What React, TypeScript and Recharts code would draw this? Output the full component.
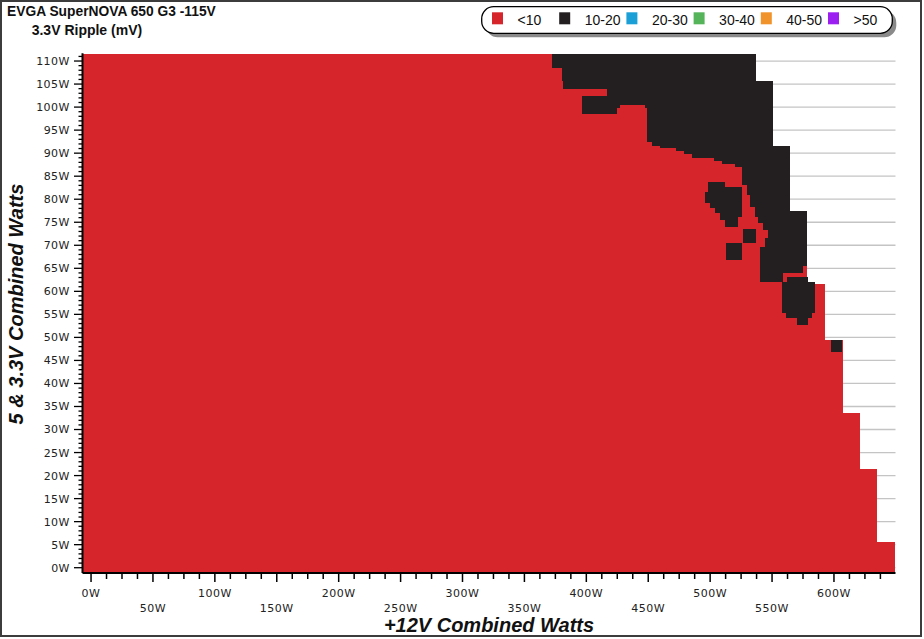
import React from 'react';
import { ComposedChart, Area, XAxis, YAxis, ReferenceArea, ReferenceLine } from 'recharts';

// ---------- data ----------
const titleText = 'EVGA SuperNOVA 650 G3 -115V';
const subtitleText = '3.3V Ripple (mV)';
const xTitle = '+12V Combined Watts';
const yTitle = '5 & 3.3V Combined Watts';

const xDomain: [number, number] = [-6.9, 649.7];
const yDomain: [number, number] = [-1.15, 111.7];

const xLabelValues = [0, 50, 100, 150, 200, 250, 300, 350, 400, 450, 500, 550, 600];
const yLabelValues = [0, 5, 10, 15, 20, 25, 30, 35, 40, 45, 50, 55, 60, 65, 70, 75, 80, 85, 90, 95, 100, 105, 110];
const xMinorStep = 12.5;
const xMinorTicks = Array.from({ length: 52 }, (_, i) => i * xMinorStep);
const yMinorTicks = Array.from({ length: 112 }, (_, i) => i);

// outer envelope of the measured region (<10 mV everywhere unless overwritten)
const envelope = [
  { x: -6.9, top: 111.6 },
  { x: 537.0, top: 105.7 },
  { x: 551.0, top: 91.6 },
  { x: 564.5, top: 77.5 },
  { x: 578.0, top: 61.6 },
  { x: 592.7, top: 49.4 },
  { x: 606.9, top: 33.5 },
  { x: 621.0, top: 21.4 },
  { x: 635.0, top: 5.6 },
  { x: 649.0, top: 5.6 },
];

// cells with 10-20 mV ripple: [x from, x to, y from, y to] in watts
const blackCells: [number, number, number, number][] = [
  [372.5, 537.0, 108.5, 111.6],
  [380.4, 537.0, 105.7, 108.5],
  [381.5, 551.0, 103.9, 105.7],
  [416.7, 551.0, 102.3, 103.9],
  [396.5, 551.0, 100.5, 102.3],
  [396.5, 427.2, 99.8, 100.5],
  [447.4, 551.0, 99.8, 100.5],
  [396.5, 424.8, 98.6, 99.8],
  [448.8, 551.0, 98.6, 99.8],
  [448.8, 551.0, 92.4, 98.6],
  [453.0, 551.0, 91.6, 92.4],
  [459.5, 564.5, 91.1, 91.6],
  [472.4, 564.5, 90.5, 91.1],
  [478.9, 564.5, 89.8, 90.5],
  [485.3, 564.5, 89.0, 89.8],
  [503.1, 564.5, 88.3, 89.0],
  [509.6, 564.5, 87.7, 88.3],
  [520.1, 564.5, 87.0, 87.7],
  [525.7, 564.5, 83.1, 87.0],
  [529.8, 564.5, 80.9, 83.1],
  [532.2, 564.5, 78.3, 80.9],
  [536.2, 564.5, 77.5, 78.3],
  [536.2, 578.0, 76.1, 77.5],
  [538.6, 578.0, 74.8, 76.1],
  [542.7, 578.0, 73.3, 74.8],
  [546.7, 578.0, 71.6, 73.3],
  [544.3, 578.0, 69.6, 71.6],
  [540.2, 578.0, 65.5, 69.6],
  [540.2, 575.0, 64.0, 65.5],
  [540.2, 558.8, 62.0, 64.0],
  [561.8, 579.0, 62.0, 63.2],
  [557.8, 584.7, 55.3, 62.0],
  [561.2, 582.3, 54.2, 55.3],
  [569.9, 579.0, 52.7, 54.2],
  [498.2, 512.0, 82.7, 83.8],
  [498.2, 525.5, 81.6, 82.7],
  [495.8, 525.5, 79.2, 81.6],
  [499.8, 525.5, 78.1, 79.2],
  [503.9, 525.5, 77.0, 78.1],
  [507.9, 525.5, 76.1, 77.0],
  [507.9, 522.5, 75.5, 76.1],
  [512.0, 522.5, 74.0, 75.5],
  [526.5, 537.0, 70.6, 73.5],
  [512.8, 525.5, 66.8, 70.5],
  [597.3, 606.7, 46.9, 49.4],
];

const legendNames = ['<10', '10-20', '20-30', '30-40', '40-50', '>50'];
const legendColors = ['#d7262b', '#231f20', '#1a9fd6', '#55b45a', '#f0932a', '#9b1ff0'];

// ---------- styling ----------
const RED = legendColors[0];
const BLACK = legendColors[1];
const TICK_FONT = '"DejaVu Sans", Verdana, sans-serif';
const TEXT_FONT = '"Liberation Sans", Arial, sans-serif';

const XTick = (props: any) => {
  const { x, y, payload } = props;
  const v = payload.value as number;
  const major = v % 50 === 0;
  const lower = major && v % 100 !== 0;
  return (
    <g>
      <line x1={x} x2={x} y1={y} y2={y + (major ? 9 : 6)} stroke="#000" strokeWidth={1.5} />
      {major && (
        <text x={x} y={y + (lower ? 38.7 : 24)} textAnchor="middle" fontFamily={TICK_FONT} fontSize={11} letterSpacing={0.5} fill="#222">
          {`${v}W`}
        </text>
      )}
    </g>
  );
};

const YTick = (props: any) => {
  const { x, y, payload } = props;
  const v = payload.value as number;
  const major = v % 5 === 0;
  return (
    <g>
      <line x1={x - (major ? 8.5 : 4)} x2={x} y1={y} y2={y} stroke="#000" strokeWidth={1.3} />
      {major && (
        <text x={x - 12.5} y={y} dy="0.36em" textAnchor="end" fontFamily={TICK_FONT} fontSize={11} letterSpacing={0.5} fill="#222">
          {`${v}W`}
        </text>
      )}
    </g>
  );
};

const css = `
.heat .recharts-reference-area-rect { shape-rendering: crispEdges; }
.heat .recharts-area-area { shape-rendering: crispEdges; }
`;

export default function App() {
  const legendStart = 492;
  const legendStep = 67.2;
  return (
    <div className="heat" style={{ position: 'absolute', left: 0, top: 0, width: 924, height: 639, background: '#fff', overflow: 'hidden' }}>
      <style>{css}</style>
      <ComposedChart width={924} height={639} data={envelope} margin={{ top: 53.2, right: 28.5, bottom: 0, left: 0 }}>
        {yLabelValues.map((v) => (
          <ReferenceLine key={`g${v}`} y={v} stroke="#c4c4c4" strokeWidth={1.3} ifOverflow="visible" zIndex={-50} />
        ))}
        <Area
          dataKey="top"
          type="stepAfter"
          fill={RED}
          fillOpacity={1}
          stroke="none"
          baseValue="dataMin"
          dot={false}
          activeDot={false}
          isAnimationActive={false}
          zIndex={100}
        />
        {blackCells.map((c, i) => (
          <ReferenceArea
            key={`b${i}`}
            x1={c[0]}
            x2={c[1]}
            y1={c[2]}
            y2={c[3]}
            fill={BLACK}
            fillOpacity={1}
            stroke="none"
            ifOverflow="visible"
            zIndex={200}
          />
        ))}
        <XAxis
          dataKey="x"
          type="number"
          domain={xDomain}
          allowDataOverflow
          ticks={xMinorTicks}
          interval={0}
          tick={<XTick />}
          tickLine={false}
          tickSize={0}
          tickMargin={0}
          height={66}
          axisLine={{ stroke: '#000', strokeWidth: 2 }}
        />
        <YAxis
          type="number"
          domain={yDomain}
          allowDataOverflow
          ticks={yMinorTicks}
          interval={0}
          tick={<YTick />}
          tickLine={false}
          tickSize={0}
          tickMargin={0}
          width={82.5}
          axisLine={{ stroke: '#000', strokeWidth: 2 }}
        />
      </ComposedChart>
      <svg width={924} height={639} style={{ position: 'absolute', left: 0, top: 0, pointerEvents: 'none' }}>
        <rect x={1} y={1} width={920} height={635} fill="none" stroke="#3c3c3c" strokeWidth={2} />
        <text x={7} y={15.5} fontFamily={TEXT_FONT} fontWeight="bold" fontSize={13.8} fill="#111">{titleText}</text>
        <text x={31.7} y={35.3} fontFamily={TEXT_FONT} fontWeight="bold" fontSize={14} fill="#111">{subtitleText}</text>
        <text x={489} y={631.7} textAnchor="middle" fontFamily={TEXT_FONT} fontWeight="bold" fontStyle="italic" fontSize={20} fill="#111">{xTitle}</text>
        <text transform="translate(23,304) rotate(-90)" textAnchor="middle" fontFamily={TEXT_FONT} fontWeight="bold" fontStyle="italic" fontSize={20} fill="#111">{yTitle}</text>
        <rect x={485.7} y={10.7} width={410.6} height={26.6} rx={12} fill="#8a8a8a" />
        <rect x={481.7} y={6.7} width={410.6} height={26.6} rx={12} fill="#fff" stroke="#000" strokeWidth={1.3} />
        {legendNames.map((n, i) => {
          const lx = legendStart + i * legendStep;
          return (
            <g key={n}>
              <rect x={lx} y={12.3} width={11} height={12} fill={legendColors[i]} />
              <text x={lx + 25.5} y={24.6} fontFamily={TEXT_FONT} fontSize={14} fill="#111">{n}</text>
            </g>
          );
        })}
      </svg>
    </div>
  );
}
